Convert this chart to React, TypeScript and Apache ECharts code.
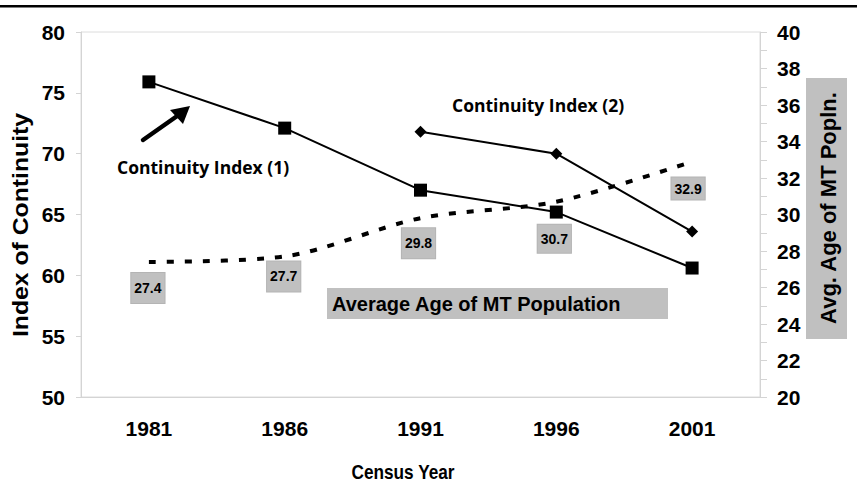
import React, { useEffect, useRef } from "react";
import * as echarts from "echarts";

const years = ["1981", "1986", "1991", "1996", "2001"];
const continuityIndex1 = [75.9, 72.1, 67.0, 65.2, 60.6];
const continuityIndex2: (number | null)[] = [null, null, 71.8, 70.0, 63.6];
const avgAgeMT = [27.4, 27.7, 29.8, 30.7, 32.9];

const leftAxisRange = { min: 50, max: 80, step: 5 };
const rightAxisRange = { min: 20, max: 40, step: 2 };

// label placement (styling only)
const ageLabelOffsets = [[-1, 26], [-1, 20], [-2, 25], [-2, 37], [-4, 27]];
const ageLabelPadV = [8, 8, 8, 7, 4];

const FONT = "'Liberation Sans', Arial, sans-serif";
const HAND = "'Open Sans', 'Noto Sans', sans-serif";

export default function App() {
  const ref = useRef<HTMLDivElement>(null);
  useEffect(() => {
    if (!ref.current) return;
    const chart = echarts.init(ref.current, undefined, { renderer: "svg" });
    const ageData = avgAgeMT.map((v, i) => ({
      value: v,
      label: {
        offset: ageLabelOffsets[i],
        padding: [ageLabelPadV[i], 3, ageLabelPadV[i], 3],
      },
    }));
    chart.setOption({
      animation: false,
      backgroundColor: "#fff",
      textStyle: { fontFamily: FONT },
      grid: {
        left: 81,
        right: 97,
        top: 32,
        bottom: 85,
        show: true,
        borderColor: "#dcdcdc",
        borderWidth: 1,
        containLabel: false,
      },
      xAxis: {
        type: "category",
        data: years,
        boundaryGap: true,
        axisLine: { lineStyle: { color: "#d4d4d4", width: 1 } },
        axisTick: { inside: true, length: 6, lineStyle: { color: "#d4d4d4" } },
        axisLabel: {
          color: "#000",
          fontWeight: "bold",
          fontSize: 21,
          fontFamily: FONT,
          margin: 21,
        },
        splitLine: { show: false },
      },
      yAxis: [
        {
          type: "value",
          min: leftAxisRange.min,
          max: leftAxisRange.max,
          interval: leftAxisRange.step,
          position: "left",
          axisLine: { show: true, lineStyle: { color: "#d4d4d4" } },
          axisTick: { show: true, length: 5, lineStyle: { color: "#d4d4d4" } },
          axisLabel: {
            color: "#000",
            fontWeight: "bold",
            fontSize: 21,
            fontFamily: FONT,
            margin: 16,
          },
          splitLine: { show: false },
        },
        {
          type: "value",
          min: rightAxisRange.min,
          max: rightAxisRange.max,
          interval: rightAxisRange.step,
          position: "right",
          axisLine: { show: true, lineStyle: { color: "#d4d4d4" } },
          axisTick: { show: true, length: 7, lineStyle: { color: "#d4d4d4" } },
          minorTick: { show: true, splitNumber: 2, length: 7, lineStyle: { color: "#d4d4d4" } },
          axisLabel: {
            color: "#000",
            fontWeight: "bold",
            fontSize: 21,
            fontFamily: FONT,
            margin: 17,
          },
          splitLine: { show: false },
          minorSplitLine: { show: false },
        },
      ],
      series: [
        {
          name: "Average Age of MT Population",
          type: "line",
          yAxisIndex: 1,
          data: ageData,
          smooth: 0.3,
          symbol: "circle",
          symbolSize: 1,
          showSymbol: true,
          itemStyle: { color: "rgba(0,0,0,0)" },
          lineStyle: { color: "#000", width: 4, type: [7, 11], cap: "butt" },
          label: {
            show: true,
            position: "inside",
            formatter: "{c}",
            color: "#000",
            fontWeight: "bold",
            fontSize: 14,
            fontFamily: FONT,
            backgroundColor: "#c0c0c0",
            borderColor: "#b4b4b4",
            borderWidth: 1,
          },
          z: 2,
        },
        {
          name: "Continuity Index (1)",
          type: "line",
          yAxisIndex: 0,
          data: continuityIndex1,
          symbol: "rect",
          symbolSize: 13,
          itemStyle: { color: "#000" },
          lineStyle: { color: "#000", width: 2 },
          z: 3,
        },
        {
          name: "Continuity Index (2)",
          type: "line",
          yAxisIndex: 0,
          data: continuityIndex2,
          symbol: "diamond",
          symbolSize: 12,
          itemStyle: { color: "#000" },
          lineStyle: { color: "#000", width: 2 },
          connectNulls: false,
          z: 3,
        },
      ],
      graphic: [
        { type: "rect", shape: { x: 0, y: 5, width: 857, height: 2.5 }, style: { fill: "#000" } },
        {
          type: "line",
          shape: { x1: 143, y1: 140, x2: 180, y2: 114 },
          style: { stroke: "#000", lineWidth: 4.5, lineCap: "round" },
        },
        {
          type: "polygon",
          shape: { points: [[190, 106], [170, 110], [183, 124]] },
          style: { fill: "#000" },
        },
        {
          type: "text",
          x: 117,
          y: 167,
          style: {
            text: "Continuity Index (1)",
            font: `bold 17.5px ${HAND}`,
            fill: "#000",
            textAlign: "left",
            textVerticalAlign: "middle",
          },
        },
        {
          type: "text",
          x: 452,
          y: 105,
          style: {
            text: "Continuity Index (2)",
            font: `bold 17.5px ${HAND}`,
            fill: "#000",
            textAlign: "left",
            textVerticalAlign: "middle",
          },
        },
        { type: "rect", shape: { x: 327, y: 288, width: 341, height: 31 }, style: { fill: "#c0c0c0" } },
        {
          type: "text",
          x: 332,
          y: 304,
          style: {
            text: "Average Age of MT Population",
            font: `bold 20px ${FONT}`,
            fill: "#000",
            textAlign: "left",
            textVerticalAlign: "middle",
          },
        },
        { type: "rect", shape: { x: 806, y: 78, width: 41, height: 261 }, style: { fill: "#c0c0c0" } },
        {
          type: "text",
          x: 828,
          y: 208,
          rotation: Math.PI / 2,
          style: {
            text: "Avg. Age of MT Popln.",
            font: `bold 22px ${FONT}`,
            fill: "#000",
            textAlign: "center",
            textVerticalAlign: "middle",
          },
        },
        {
          type: "text",
          x: 20,
          y: 225,
          rotation: Math.PI / 2,
          scaleX: 1.1,
          style: {
            text: "Index of Continuity",
            font: `bold 22.5px ${FONT}`,
            fill: "#000",
            textAlign: "center",
            textVerticalAlign: "middle",
          },
        },
        {
          type: "text",
          x: 403,
          y: 472,
          scaleX: 0.84,
          style: {
            text: "Census Year",
            font: `bold 20.5px ${FONT}`,
            fill: "#000",
            textAlign: "center",
            textVerticalAlign: "middle",
          },
        },
      ],
    });
    return () => chart.dispose();
  }, []);
  return (
    <div
      ref={ref}
      style={{ position: "fixed", left: 0, top: 0, width: 857, height: 482, background: "#fff" }}
    />
  );
}
